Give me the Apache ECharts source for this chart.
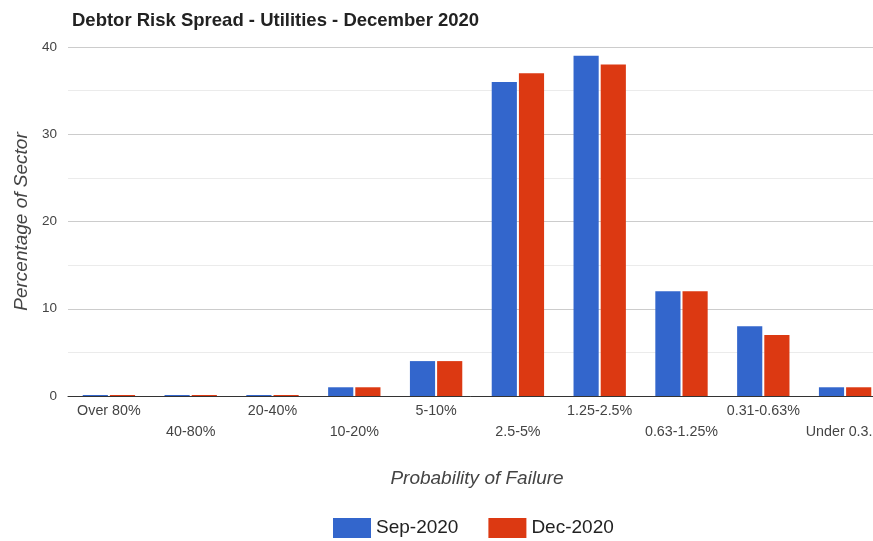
<!DOCTYPE html>
<html>
<head>
<meta charset="utf-8">
<script src="https://cdn.jsdelivr.net/npm/echarts@6/dist/echarts.min.js"></script>
<style>
  html, body { margin: 0; padding: 0; background: #fff; overflow: hidden; }
  #chart { width: 873px; height: 541px; }
</style>
</head>
<body>
<div id="chart"></div>
<script>
  // probability bands, worst to best
  const categories = ['Over 80%', '40-80%', '20-40%', '10-20%', '5-10%', '2.5-5%',
    '1.25-2.5%', '0.63-1.25%', '0.31-0.63%', 'Under 0.31%']
  const sep2020 = [0, 0, 0, 1, 4, 36, 39, 12, 8, 1]
  const dec2020 = [0, 0, 0, 1, 4, 37, 38, 12, 7, 1]
  const yTicks = { min: 0, max: 40, interval: 10 }

  let chart = echarts.init(document.getElementById('chart'))
  let font = 'Arial, "Liberation Sans", sans-serif'
  let option = {
    animation: false,
    title: {
      text: 'Debtor Risk Spread - Utilities - December 2020',
      left: 67,
      top: 6,
      textStyle: { fontFamily: font, fontSize: 18.5, fontWeight: 'bold', color: '#222' }
    },
    color: ['#3366cc', '#dc3912'],
    legend: {
      bottom: 3,
      left: 333,
      padding: 0,
      itemWidth: 38,
      itemHeight: 20,
      itemGap: 30,
      icon: 'rect',
      textStyle: { fontFamily: font, fontSize: 19, color: '#222' },
      data: ['Sep-2020', 'Dec-2020']
    },
    // chart area runs past the right edge, as in the source picture
    grid: { left: 68, width: 818, top: 47, bottom: 145, outerBoundsMode: 'none' },
    xAxis: {
      type: 'category',
      data: categories,
      name: 'Probability of Failure',
      nameLocation: 'middle',
      nameGap: 73,
      nameTextStyle: { fontFamily: font, fontSize: 19, fontStyle: 'italic', color: '#444' },
      axisLine: { lineStyle: { color: '#333', width: 1 } },
      axisTick: { show: false },
      axisLabel: {
        interval: 0,
        margin: 5,
        fontFamily: font,
        fontSize: 14.3,
        color: '#444',
        lineHeight: 21,
        hideOverlap: false,
        rich: {
          cut: { fontFamily: font, fontSize: 14.3, color: '#444', padding: [0, 12, 0, 0] }
        },
        formatter: function (v, i) {
          // last label is clipped in the original
          if (v === 'Under 0.31%') v = '{cut|Under 0.3.}'
          return i % 2 ? '\n' + v : v
        }
      }
    },
    yAxis: {
      type: 'value',
      min: yTicks.min,
      max: yTicks.max,
      interval: yTicks.interval,
      name: 'Percentage of Sector',
      nameLocation: 'middle',
      nameGap: 32,
      nameTextStyle: { fontFamily: font, fontSize: 19, fontStyle: 'italic', color: '#444' },
      axisLabel: { fontFamily: font, fontSize: 13.5, color: '#444', margin: 11 },
      axisLine: { show: false },
      axisTick: { show: false },
      splitLine: { lineStyle: { color: '#cccccc' } },
      minorTick: { show: false, splitNumber: 2 },
      minorSplitLine: { show: true, lineStyle: { color: '#ebebeb' } }
    },
    series: [{
      name: 'Sep-2020',
      type: 'bar',
      data: sep2020,
      barGap: '8%',
      barCategoryGap: '36%',
      barMinHeight: 1
    }, {
      name: 'Dec-2020',
      type: 'bar',
      data: dec2020,
      barMinHeight: 1
    }]
  }
  chart.setOption(option)
</script>
</body>
</html>
